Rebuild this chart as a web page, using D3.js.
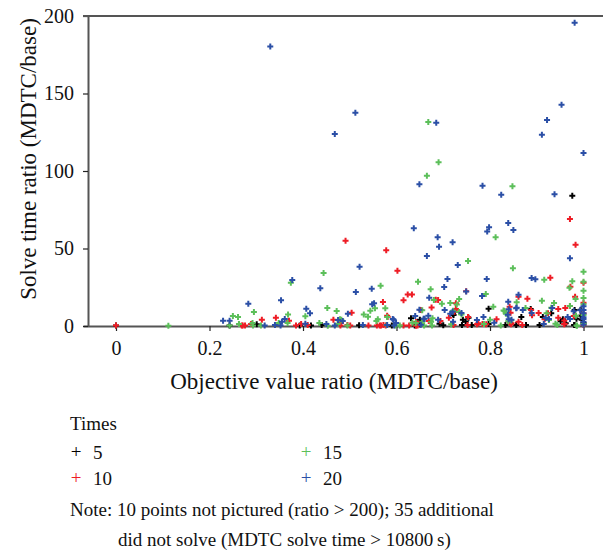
<!DOCTYPE html>
<html>
<head>
<meta charset="utf-8">
<script src="https://cdn.jsdelivr.net/npm/d3@7"></script>
<style>
  body { margin: 0; background: #fff; }
  svg text { font-family: "Liberation Serif", serif; fill: #111; }
</style>
</head>
<body>
<svg id="chart" width="603" height="552"></svg>
<script>
// ratio data, [objective value ratio, solve time ratio]
var times5 = [[0.976,84.1],[0.797,11.2],[0.721,7.7],[0.754,5.4],[0.748,2.8],[0.631,5.0],[0.650,1.1],[0.692,1.5],[0.797,1.3],[0.867,5.8],[0.931,8.2],[0.981,10.3],[0.956,4.3],[0.980,0.6],[0.994,6.6],[0.243,0.3],[0.301,1.1],[0.393,0.4],[0.417,0.4],[0.440,0.6],[0.590,0.4],[0.650,4.1],[0.742,4.1],[0.639,0.3],[0.740,0.6],[0.887,11.0],[0.913,5.8],[0.994,10.5],[0.951,3.0],[0.985,4.7],[0.996,4.1],[0.761,0.6],[0.833,0.6],[0.856,0.6],[0.877,0.6],[0.906,0.6],[0.962,1.7],[0.981,0.6],[0.722,7.1],[0.0,0.3],[1.0,2.0],[0.520,0.5],[0.700,0.5]];

var times10 = [[0.0,0.4],[0.491,55.0],[0.578,48.8],[0.602,35.7],[0.571,15.5],[0.504,8.6],[0.342,5.4],[0.312,4.1],[0.370,3.4],[0.465,4.1],[0.481,1.9],[0.580,6.6],[0.269,0.4],[0.276,0.3],[0.289,1.3],[0.385,0.3],[0.396,1.3],[0.410,0.6],[0.495,0.6],[0.501,0.4],[0.540,0.3],[0.558,0.4],[0.567,0.4],[0.572,0.6],[0.271,0.3],
  [0.971,69.0],[0.983,52.5],[0.929,31.2],[1.0,27.9],[0.972,25.4],[0.749,22.4],[0.624,20.4],[0.615,16.6],[0.684,17.0],[0.861,18.9],[0.880,17.6],[0.982,18.9],[0.675,12.0],[0.652,10.3],[0.727,10.5],[0.888,10.3],[0.890,6.9],[0.642,2.6],[0.712,5.4],[0.775,1.7],[0.784,1.3],[0.814,4.3],[0.843,1.9],[0.861,2.8],[0.904,8.4],[0.946,5.4],[0.961,11.6],[0.979,6.5],[0.959,1.3],[0.615,0.3],[0.627,0.3],[0.642,0.2],
  [0.633,20.3],[0.689,16.8],[0.727,14.6],[0.581,5.8],[0.727,11.0],[0.724,9.2],[0.669,3.2],[0.694,3.2],[0.753,5.8],[0.480,0.4],[0.564,0.4],[0.577,0.4],[0.645,0.4],[0.722,0.6],[0.752,0.6],
  [0.842,12.5],[0.946,11.0],[0.971,12.9],[0.844,8.6],[0.917,4.3],[0.924,8.2],[0.959,3.6],[0.846,1.7],[0.772,1.1],[0.792,1.1],[0.845,1.1],[0.869,0.6],[0.959,1.1],[1.0,0.6],[1.0,8.0],[1.0,15.0]];

var times15 = [[0.112,0.2],[0.668,131.6],[0.690,105.6],[0.665,97.0],[0.848,90.1],[0.812,57.2],[0.753,41.9],[0.849,37.2],[0.646,28.6],[0.916,29.9],[1.0,35.0],[0.976,28.8],[0.970,24.7],[0.673,23.7],[1.0,22.8],[0.791,20.6],[0.734,17.4],[0.697,14.4],[0.911,16.3],[0.937,14.8],[0.807,12.5],[0.715,14.8],[0.729,13.8],[0.655,10.1],[0.831,9.7],[0.739,7.5],[0.634,2.1],[0.677,5.0],[0.845,3.6],[0.921,8.2],[0.940,1.5],[0.971,12.9],[0.984,6.6],[0.986,0.2],[0.983,17.4],
  [0.444,34.2],[0.374,27.9],[0.566,26.0],[0.295,9.0],[0.452,11.6],[0.472,9.7],[0.554,11.4],[0.576,11.4],[0.530,7.5],[0.250,6.5],[0.261,5.8],[0.368,7.4],[0.405,6.3],[0.539,6.0],[0.560,4.3],[0.482,4.1],[0.348,1.9],[0.367,1.9],[0.292,1.9],[0.263,1.3],[0.243,0.4],[0.293,0.3],[0.310,0.4],[0.435,1.9],[0.453,0.2],[0.474,1.3],[0.579,0.6],[0.607,0.3],
  [0.544,9.9],[0.557,3.2],[0.580,5.8],[0.479,4.3],[0.680,16.8],[0.721,9.9],[0.734,9.0],[0.655,2.8],[0.641,1.9],[0.674,2.8],[0.495,0.4],[0.598,0.4],[0.659,0.4],[0.676,0.3],[0.717,1.1],
  [0.857,15.3],[0.931,11.8],[0.876,11.6],[0.834,7.9],[0.800,4.1],[0.926,3.9],[0.839,3.0],[1.0,7.1],[1.0,1.3],[0.787,1.3],[0.823,0.4],[0.944,0.6],[0.985,0.4],[1.0,14.0],[1.0,18.0],[1.0,28.5],[0.829,10.0]];

var times20 = [[0.330,180.4],[0.512,137.6],[0.468,123.9],[0.981,195.7],[0.953,142.8],[0.685,131.2],[0.922,132.9],[0.911,123.4],[1.0,111.6],
  [0.649,91.4],[0.784,90.5],[0.824,84.7],[0.938,85.0],[0.637,63.0],[0.839,66.5],[0.850,61.9],[0.798,63.7],[0.794,60.9],[0.688,57.2],[0.691,51.2],[0.720,54.0],[0.665,45.2],[0.971,43.7],[0.731,39.4],[0.709,30.3],[0.793,30.3],[0.702,25.2],[0.889,31.0],[0.897,30.1],[0.670,18.3],[0.783,19.4],[0.861,20.2],[0.839,15.7],[0.857,11.8],[0.703,10.3],
  [0.840,10.8],[0.720,9.2],[0.838,7.3],[0.658,4.7],[0.640,6.5],[0.668,6.6],[0.689,4.1],[0.721,2.8],[0.772,3.9],[0.809,2.1],[0.840,4.3],[0.919,5.2],[0.926,4.5],[0.979,9.5],[0.993,10.1],[1.0,12.7],[1.0,10.3],[1.0,8.2],[1.0,5.6],[1.0,4.5],[1.0,2.8],[1.0,0.8],
  [0.521,38.3],[0.377,29.7],[0.437,24.3],[0.513,21.9],[0.547,24.1],[0.552,14.6],[0.283,14.4],[0.353,16.6],[0.407,11.2],[0.415,8.2],[0.496,7.9],[0.229,3.4],[0.243,3.4],[0.361,4.5],[0.355,2.8],[0.475,3.9],[0.485,3.2],[0.594,4.1],[0.318,0.3],[0.340,0.6],[0.352,0.4],[0.405,1.5],[0.450,1.3],[0.468,0.4],[0.528,0.6],[0.595,0.3],
  [0.592,4.5],[0.649,10.5],[0.715,7.9],[0.739,8.4],[0.660,4.7],[0.580,0.6],[0.652,0.8],[0.548,14.0],[0.749,22.2],[0.599,2.0],
  [0.786,5.8],[0.889,8.4],[0.966,5.8],[0.971,4.5],[0.846,4.1],[0.856,11.4],[0.870,10.3],[0.933,11.6],[0.915,1.3]];

var seriesNames = ["5", "10", "15", "20"];
var seriesColors = ["#000000", "#ee1c25", "#5cbf5a", "#2b4fa6"];
var xTicks = [0, 0.2, 0.4, 0.6, 0.8, 1];
var yTicks = [0, 50, 100, 150, 200];

var series = [times5, times10, times15, times20];

var svg = d3.select("#chart");

// x(0)=116, x(1)=583.5; the axis line runs from 83 to the right edge
var x = d3.scaleLinear().domain([-0.0706, 1.0417]).range([83, 603]);
var y = d3.scaleLinear().domain([0, 200]).range([326, 16]);

var axisColor = "#555";

var gx = svg.append("g")
  .attr("transform", "translate(0," + y(0) + ")")
  .call(d3.axisBottom(x).tickValues(xTicks).tickFormat(d3.format("")).tickSize(5).tickSizeOuter(0).tickPadding(10));

var gy = svg.append("g")
  .attr("transform", "translate(88,0)")
  .call(d3.axisLeft(y).tickValues(yTicks).tickSize(5).tickSizeOuter(0).tickPadding(9));

// top border line
svg.append("line")
  .attr("x1", x.range()[0]).attr("x2", x.range()[1])
  .attr("y1", y(200)).attr("y2", y(200))
  .attr("stroke", axisColor).attr("stroke-width", 2);

[gx, gy].forEach(function(g) {
  g.select(".domain").attr("stroke", axisColor).attr("stroke-width", 2);
  g.selectAll(".tick line").attr("stroke", "#222").attr("stroke-width", 1.2);
  g.selectAll(".tick text").attr("font-family", "Liberation Serif, serif").attr("font-size", 20).attr("fill", "#111");
});

// points
var cross = d3.symbol().type(d3.symbolCross).size(20);
series.forEach(function(data, i) {
  svg.append("g")
    .selectAll("path")
    .data(data)
    .enter().append("path")
      .attr("d", cross)
      .attr("transform", function(d) { return "translate(" + x(d[0]) + "," + y(d[1]) + ")"; })
      .attr("fill", seriesColors[i]);
});

// axis titles
svg.append("text")
  .attr("x", 334).attr("y", 389)
  .attr("text-anchor", "middle")
  .attr("font-size", 23)
  .text("Objective value ratio (MDTC/base)");

svg.append("text")
  .attr("transform", "translate(36,159) rotate(-90)")
  .attr("text-anchor", "middle")
  .attr("font-size", 23)
  .text("Solve time ratio (MDTC/base)");

// legend
var legend = svg.append("g");
legend.append("text").attr("x", 70).attr("y", 430).attr("font-size", 19).text("Times");

var legPos = [[76, 452], [76, 478], [306, 452], [306, 478]];
seriesNames.forEach(function(name, i) {
  legend.append("text")
    .attr("x", legPos[i][0]).attr("y", legPos[i][1] + 6)
    .attr("text-anchor", "middle")
    .attr("font-size", 19)
    .style("fill", seriesColors[i])
    .text("+");
  legend.append("text")
    .attr("x", legPos[i][0] + 17).attr("y", legPos[i][1] + 7)
    .attr("font-size", 19)
    .text(name);
});

// note
legend.append("text").attr("x", 70).attr("y", 516).attr("font-size", 19)
  .text("Note: 10 points not pictured (ratio > 200); 35 additional");
legend.append("text").attr("x", 118).attr("y", 546).attr("font-size", 19)
  .text("did not solve (MDTC solve time > 10800\u2009s)");
</script>
</body>
</html>
